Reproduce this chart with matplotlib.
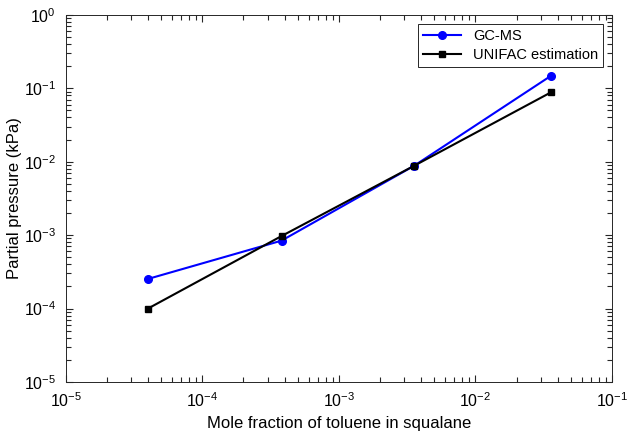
import numpy as np
import matplotlib
matplotlib.use("Agg")
from matplotlib import pyplot as plt
from matplotlib.ticker import LogLocator, NullFormatter

plt.rcParams['font.family'] = ['Liberation Sans', 'DejaVu Sans']
plt.rcParams['axes.unicode_minus'] = False
plt.rcParams['mathtext.default'] = 'regular'

# mole fraction of toluene in squalane
x = [4.0e-5, 3.8e-4, 3.56e-3, 3.6e-2]
# partial pressure (kPa)
gcms = [2.53e-4, 8.4e-4, 8.8e-3, 0.149]
unifac = [1.0e-4, 9.7e-4, 8.8e-3, 0.0886]

fig = plt.figure(figsize=(6.27, 4.36), dpi=100)
ax = fig.add_axes([0.105, 0.124, 0.871, 0.842])

ax.plot(x, gcms, '-o', color='#0000ff', linewidth=1.5, markersize=5.5, label='GC-MS')
ax.plot(x, unifac, '-s', color='black', linewidth=1.5, markersize=5, label='UNIFAC estimation')

ax.set_xscale('log')
ax.set_yscale('log')
ax.set_xlim(1e-5, 1e-1)
ax.set_ylim(1e-5, 1e0)
ax.set_xticks([1e-5, 1e-4, 1e-3, 1e-2, 1e-1])
ax.set_yticks([1e-5, 1e-4, 1e-3, 1e-2, 1e-1, 1e0])
minor_subs = [2, 3, 4, 5, 6, 7, 8, 9]
for axis in (ax.xaxis, ax.yaxis):
    axis.set_minor_locator(LogLocator(base=10, subs=minor_subs, numticks=20))
    axis.set_minor_formatter(NullFormatter())

for s in ax.spines.values():
    s.set_color('#262626')
    s.set_linewidth(0.7)
ax.tick_params(which='both', direction='in', top=True, right=True, colors='#262626', width=0.8)
ax.tick_params(which='major', length=5, labelsize=11.5, pad=7)
ax.tick_params(which='minor', length=3.5)
for lab in ax.get_xticklabels() + ax.get_yticklabels():
    lab.set_color('black')

ax.set_xlabel('Mole fraction of toluene in squalane', fontsize=12)
ax.set_ylabel('Partial pressure (kPa)', fontsize=12, labelpad=1)

leg = ax.legend(loc='upper right', fontsize=10.5, fancybox=False, framealpha=1,
                edgecolor='#262626', borderaxespad=0.6, handlelength=2.6,
                borderpad=0.35, labelspacing=0.35)
leg.get_frame().set_linewidth(0.7)

fig.savefig('out.png', dpi=100)
